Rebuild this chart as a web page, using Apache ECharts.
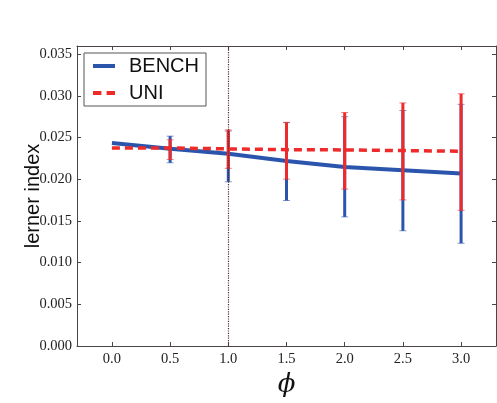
<!DOCTYPE html>
<html>
<head>
<meta charset="utf-8">
<script src="https://cdn.jsdelivr.net/npm/echarts@6/dist/echarts.min.js"></script>
<style>html,body{margin:0;padding:0;background:#fff;}#c{width:497px;height:403px;}</style>
</head>
<body>
<div id="c"></div>
<script>
const phi = [0.0, 0.5, 1.0, 1.5, 2.0, 2.5, 3.0];
const benchMean = [0.02436, 0.02368, 0.02306, 0.02219, 0.02148, 0.02108, 0.02069];
const benchLow  = [null, 0.02199, 0.01971, 0.01746, 0.01549, 0.01383, 0.01233];
const benchHigh = [null, 0.02518, 0.02580, 0.02680, 0.02751, 0.02826, 0.02900];
const uniMean = [0.02377, 0.02377, 0.02365, 0.02356, 0.02353, 0.02345, 0.02337];
const uniLow  = [null, 0.02238, 0.02132, 0.02002, 0.01883, 0.01753, 0.01628];
const uniHigh = [null, 0.02475, 0.02593, 0.02684, 0.02802, 0.02917, 0.03027];
const yTicks = ['0.000','0.005','0.010','0.015','0.020','0.025','0.030','0.035'];
const xTicks = ['0.0','0.5','1.0','1.5','2.0','2.5','3.0'];

const BLUE = '#2b55ad';
const RED = '#ee2a2a';
const AX = '#4a4444';

function errData(low, high) {
  const out = [];
  phi.forEach((x, i) => { if (low[i] != null) out.push([x, low[i], high[i]]); });
  return out;
}
function errRender(color) {
  return function (params, api) {
    const x = api.value(0);
    const lo = api.coord([x, api.value(1)]);
    const hi = api.coord([x, api.value(2)]);
    const cw = 3.5;
    return {
      type: 'group',
      children: [
        { type: 'line', shape: { x1: lo[0], y1: lo[1], x2: hi[0], y2: hi[1] }, style: { stroke: color, lineWidth: 3 } },
        { type: 'line', shape: { x1: lo[0] - cw, y1: lo[1], x2: lo[0] + cw, y2: lo[1] }, style: { stroke: color, lineWidth: 1, opacity: 0.6 } },
        { type: 'line', shape: { x1: hi[0] - cw, y1: hi[1], x2: hi[0] + cw, y2: hi[1] }, style: { stroke: color, lineWidth: 1, opacity: 0.6 } }
      ]
    };
  };
}

const chart = echarts.init(document.getElementById('c'), null, { renderer: 'canvas' });
const labelFont = { fontFamily: 'Liberation Serif', fontSize: 14.5, color: '#222' };
const axLine = { show: true, onZero: false, lineStyle: { color: AX, width: 1 } };
const axTick = { show: true, inside: true, length: 4, lineStyle: { color: AX } };
chart.setOption({
  animation: false,
  backgroundColor: '#fff',
  grid: { left: 77, top: 46, right: 1, bottom: 52, containLabel: false },
  legend: {
    left: 84, top: 53, orient: 'vertical',
    data: [
      { name: 'BENCH', icon: 'path://M0,0H22V4H0Z', itemStyle: { color: BLUE } },
      { name: 'UNI', icon: 'path://M0,0H8V3.6H0Z M13,0H21V3.6H13Z', itemStyle: { color: RED } }
    ],
    itemWidth: 22, itemHeight: 14, itemGap: 7, symbolKeepAspect: true,
    padding: [3, 7, 3, 9],
    borderColor: '#555', borderWidth: 1, backgroundColor: '#fff',
    textStyle: { fontFamily: 'Liberation Sans', fontSize: 20, color: '#111', lineHeight: 20, padding: [0, 0, 0, 9] }
  },
  xAxis: [{
    type: 'value', min: -0.3, max: 3.3, splitNumber: 7,
    name: 'ϕ', nameLocation: 'middle', nameGap: 26, nameMoveOverlap: false,
    nameTextStyle: { fontFamily: 'DejaVu Serif', fontStyle: 'italic', fontSize: 26, color: '#111' },
    axisLine: axLine, axisTick: axTick,
    axisLabel: Object.assign({ margin: 6, showMinLabel: false, showMaxLabel: false,
      formatter: v => { const i = xTicks.indexOf(v.toFixed(1)); return i >= 0 ? xTicks[i] : ''; } }, labelFont),
    splitLine: { show: false }
  }, {
    type: 'value', min: -0.3, max: 3.3, splitNumber: 7, position: 'top',
    axisLine: axLine, axisTick: axTick,
    axisLabel: { show: false }, splitLine: { show: false }
  }],
  yAxis: [{
    type: 'value', min: 0, max: 0.036, interval: 0.005,
    name: 'lerner index', nameLocation: 'middle', nameGap: 34, nameRotate: 90, nameMoveOverlap: false,
    nameTextStyle: { fontFamily: 'Liberation Sans', fontSize: 20, color: '#111' },
    axisLine: axLine, axisTick: axTick,
    axisLabel: Object.assign({ margin: 5, showMaxLabel: false,
      formatter: v => { const i = yTicks.indexOf(v.toFixed(3)); return i >= 0 ? yTicks[i] : ''; } }, labelFont),
    splitLine: { show: false }
  }, {
    type: 'value', min: 0, max: 0.036, interval: 0.005, position: 'right',
    axisLine: axLine, axisTick: axTick,
    axisLabel: { show: false }, splitLine: { show: false }
  }],
  series: [
    {
      name: 'BENCH-err', type: 'custom', xAxisIndex: 0, yAxisIndex: 0, z: 2,
      renderItem: errRender(BLUE), data: errData(benchLow, benchHigh)
    },
    {
      name: 'BENCH', type: 'line', xAxisIndex: 0, yAxisIndex: 0, z: 3,
      data: phi.map((x, i) => [x, benchMean[i]]),
      symbol: 'none', color: BLUE,
      lineStyle: { color: BLUE, width: 4 },
      markLine: {
        silent: true, symbol: 'none', label: { show: false },
        lineStyle: { color: '#5a2a2a', type: 'dotted', width: 1.2 },
        data: [{ xAxis: 1.0 }]
      }
    },
    {
      name: 'UNI-err', type: 'custom', xAxisIndex: 0, yAxisIndex: 0, z: 4,
      renderItem: errRender(RED), data: errData(uniLow, uniHigh)
    },
    {
      name: 'UNI', type: 'line', xAxisIndex: 0, yAxisIndex: 0, z: 5,
      data: phi.map((x, i) => [x, uniMean[i]]),
      symbol: 'none', color: RED,
      lineStyle: { color: RED, width: 3.5, type: [8, 5] }
    }
  ]
});
</script>
</body>
</html>
